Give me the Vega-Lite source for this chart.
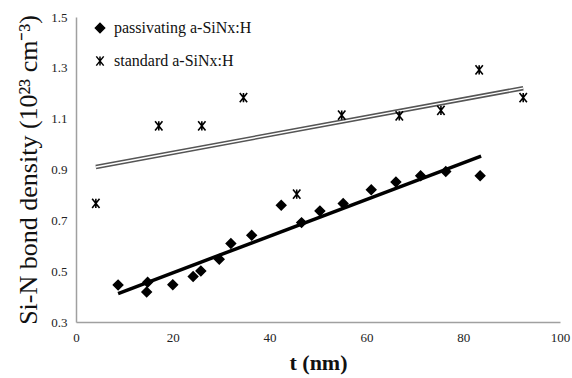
{
  "$schema": "https://vega.github.io/schema/vega-lite/v6.json",
  "width": 484,
  "height": 305,
  "autosize": {"type": "none"},
  "padding": {"left": 76, "top": 17, "right": 12, "bottom": 56},
  "background": "white",
  "config": {
    "view": {"stroke": null},
    "font": "Liberation Serif",
    "axis": {
      "grid": false,
      "ticks": false,
      "domainColor": "#a0a0a0",
      "domainWidth": 1.5,
      "labelColor": "#222",
      "titleColor": "#111"
    }
  },
  "datasets": {
    "points": [
      {"series": "passivating a-SiNx:H", "t": 8.7, "density": 0.446},
      {"series": "passivating a-SiNx:H", "t": 14.8, "density": 0.456},
      {"series": "passivating a-SiNx:H", "t": 14.6, "density": 0.418},
      {"series": "passivating a-SiNx:H", "t": 20.0, "density": 0.447},
      {"series": "passivating a-SiNx:H", "t": 24.2, "density": 0.479},
      {"series": "passivating a-SiNx:H", "t": 25.8, "density": 0.501},
      {"series": "passivating a-SiNx:H", "t": 29.6, "density": 0.547},
      {"series": "passivating a-SiNx:H", "t": 32.0, "density": 0.609},
      {"series": "passivating a-SiNx:H", "t": 36.3, "density": 0.641},
      {"series": "passivating a-SiNx:H", "t": 42.4, "density": 0.759},
      {"series": "passivating a-SiNx:H", "t": 46.6, "density": 0.691},
      {"series": "passivating a-SiNx:H", "t": 50.4, "density": 0.737},
      {"series": "passivating a-SiNx:H", "t": 55.2, "density": 0.766},
      {"series": "passivating a-SiNx:H", "t": 61.0, "density": 0.820},
      {"series": "passivating a-SiNx:H", "t": 66.1, "density": 0.851},
      {"series": "passivating a-SiNx:H", "t": 71.2, "density": 0.875},
      {"series": "passivating a-SiNx:H", "t": 76.4, "density": 0.892},
      {"series": "passivating a-SiNx:H", "t": 83.5, "density": 0.875},
      {"series": "standard a-SiNx:H", "t": 4.1, "density": 0.767},
      {"series": "standard a-SiNx:H", "t": 17.1, "density": 1.072},
      {"series": "standard a-SiNx:H", "t": 26.0, "density": 1.072},
      {"series": "standard a-SiNx:H", "t": 34.6, "density": 1.183},
      {"series": "standard a-SiNx:H", "t": 45.6, "density": 0.803},
      {"series": "standard a-SiNx:H", "t": 54.9, "density": 1.114},
      {"series": "standard a-SiNx:H", "t": 66.8, "density": 1.111},
      {"series": "standard a-SiNx:H", "t": 75.4, "density": 1.133},
      {"series": "standard a-SiNx:H", "t": 83.3, "density": 1.292},
      {"series": "standard a-SiNx:H", "t": 92.4, "density": 1.183}
    ],
    "fits": [
      {"series": "passivating", "t": 8.7, "density": 0.412},
      {"series": "passivating", "t": 83.7, "density": 0.953},
      {"series": "standard", "t": 4.1, "density": 0.910},
      {"series": "standard", "t": 92.4, "density": 1.220}
    ]
  },
  "encoding": {
    "x": {
      "field": "t",
      "type": "quantitative",
      "scale": {"domain": [0, 100], "nice": false, "zero": false},
      "axis": {
        "values": [0, 20, 40, 60, 80, 100],
        "title": "t (nm)",
        "labelFont": "Liberation Serif",
        "labelFontSize": 13,
        "titleFont": "Liberation Serif",
        "titleFontSize": 22,
        "titleFontWeight": "bold",
        "labelPadding": 9,
        "titlePadding": 8,
        "labelFlush": false
      }
    },
    "y": {
      "field": "density",
      "type": "quantitative",
      "scale": {"domain": [0.3, 1.5], "nice": false, "zero": false},
      "axis": {
        "values": [0.3, 0.5, 0.7, 0.9, 1.1, 1.3, 1.5],
        "format": ".1f",
        "title": "Si-N bond density (10²³ cm⁻³)",
        "labelFont": "Liberation Serif",
        "labelFontSize": 13,
        "titleFont": "Liberation Serif",
        "titleFontSize": 26,
        "titleFontWeight": "normal",
        "labelPadding": 9,
        "titlePadding": 9,
        "labelFlush": false
      }
    }
  },
  "layer": [
    {
      "data": {"name": "fits"},
      "transform": [{"filter": "datum.series === 'standard'"}],
      "mark": {"type": "line", "stroke": "#555555", "strokeWidth": 4.5}
    },
    {
      "data": {"name": "fits"},
      "transform": [{"filter": "datum.series === 'standard'"}],
      "mark": {"type": "line", "stroke": "#ffffff", "strokeWidth": 1.4}
    },
    {
      "data": {"name": "fits"},
      "transform": [{"filter": "datum.series === 'passivating'"}],
      "mark": {"type": "line", "stroke": "#000000", "strokeWidth": 3.5}
    },
    {
      "data": {"name": "points"},
      "mark": {"type": "point", "filled": true, "fill": "#000000", "stroke": "#000000", "strokeWidth": 1.6, "opacity": 1, "size": 85},
      "encoding": {
        "shape": {
          "field": "series",
          "type": "nominal",
          "scale": {
            "domain": ["passivating a-SiNx:H", "standard a-SiNx:H"],
            "range": ["diamond", "M-0.8,-1L0.8,1M0.8,-1L-0.8,1M0,-1L0,1"]
          },
          "legend": {
            "title": null,
            "orient": "none",
            "legendX": 16,
            "legendY": 3,
            "padding": 0,
            "labelFont": "Liberation Serif",
            "labelFontSize": 16,
            "labelColor": "#111",
            "labelOffset": 6,
            "rowPadding": 17,
            "symbolSize": 85,
            "encode": {
              "symbols": {
                "update": {
                  "fill": {"value": "#000000"},
                  "stroke": {"value": "#000000"},
                  "strokeWidth": {"value": 1.6},
                  "opacity": {"value": 1}
                }
              }
            }
          }
        }
      }
    }
  ]
}
